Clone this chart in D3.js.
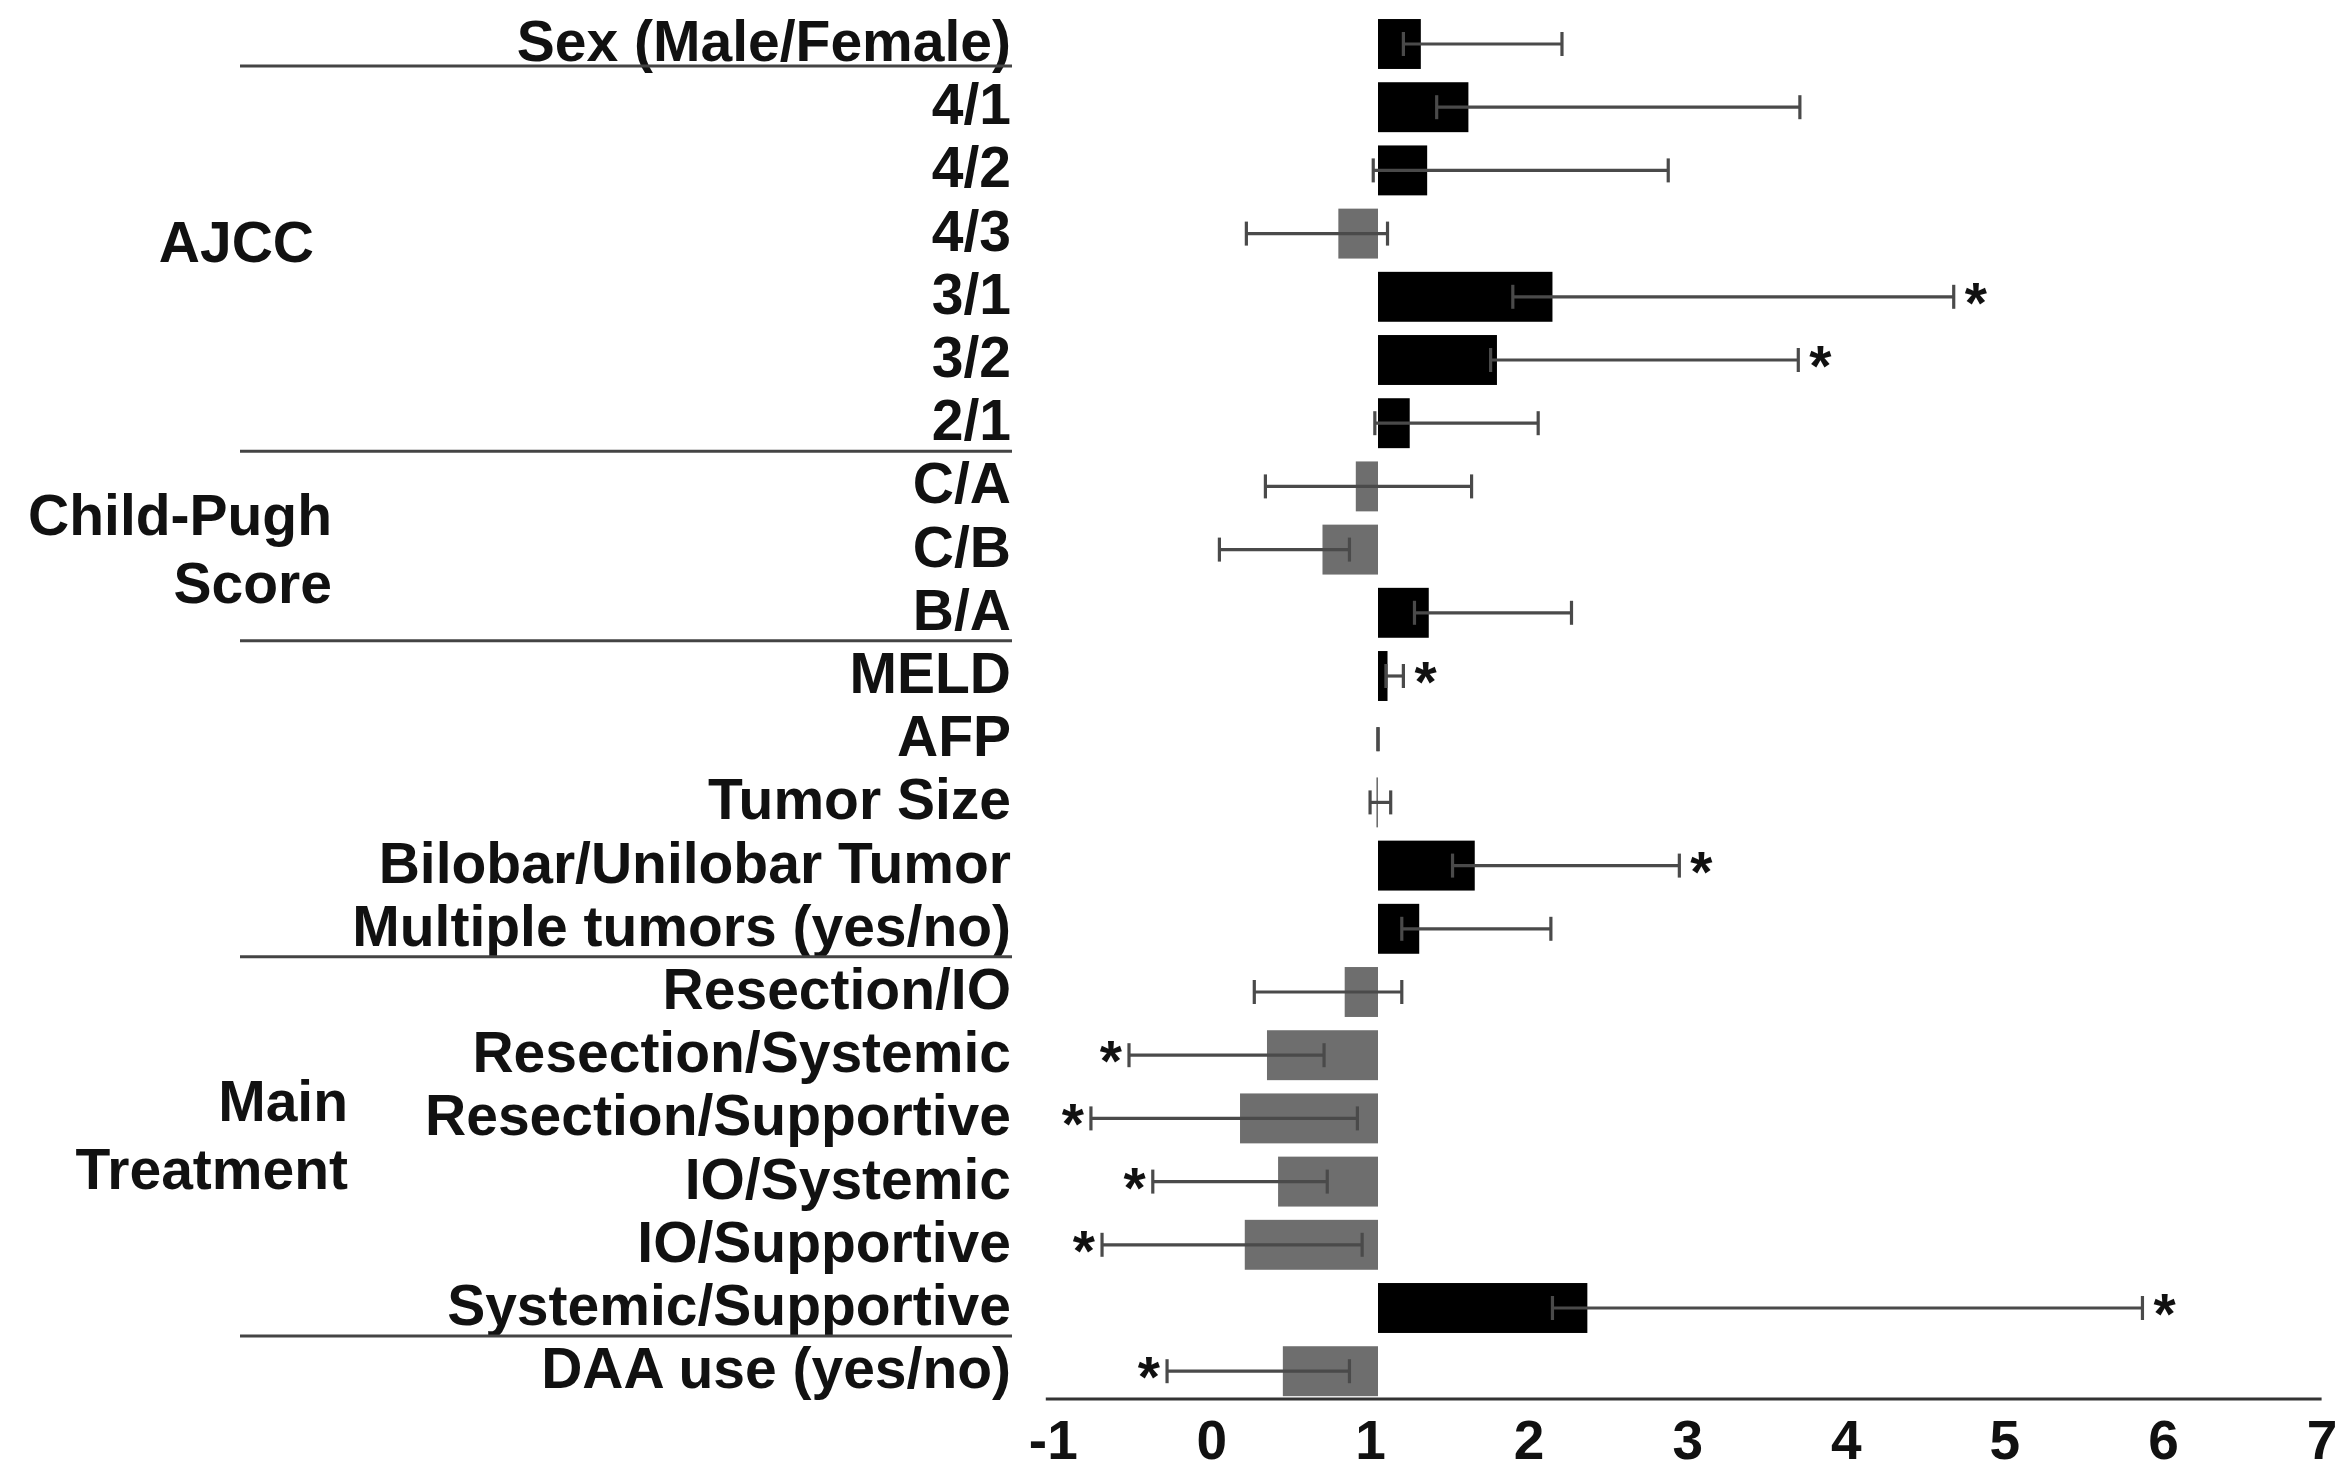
<!DOCTYPE html>
<html>
<head>
<meta charset="utf-8">
<script src="https://cdn.jsdelivr.net/npm/d3@7"></script>
<style>
  html, body { margin: 0; padding: 0; background: #fff; }
  svg { display: block; }
  text { font-family: "Liberation Sans", Arial, sans-serif; font-weight: bold; fill: #111; }
</style>
</head>
<body>
<svg id="chart" width="2341" height="1472"></svg>
<script>
// ---------- DATA ----------
const categories = [
  "Sex (Male/Female)", "4/1", "4/2", "4/3", "3/1", "3/2", "2/1",
  "C/A", "C/B", "B/A",
  "MELD", "AFP", "Tumor Size", "Bilobar/Unilobar Tumor", "Multiple tumors (yes/no)",
  "Resection/IO", "Resection/Systemic", "Resection/Supportive", "IO/Systemic", "IO/Supportive", "Systemic/Supportive",
  "DAA use (yes/no)"
];
const ratios = [1.27, 1.57, 1.31, 0.75, 2.10, 1.75, 1.20, 0.86, 0.65, 1.32, 1.06, 1.00, 0.99, 1.61, 1.26, 0.79, 0.30, 0.13, 0.37, 0.16, 2.32, 0.40];
const lowerCI = [1.16, 1.37, 0.97, 0.17, 1.85, 1.71, 0.98, 0.29, 0.00, 1.23, 1.05, 1.00, 0.95, 1.47, 1.15, 0.22, -0.57, -0.81, -0.42, -0.74, 2.10, -0.33];
const upperCI = [2.16, 3.66, 2.83, 1.06, 4.63, 3.65, 2.01, 1.59, 0.82, 2.22, 1.16, 1.00, 1.08, 2.90, 2.09, 1.15, 0.66, 0.87, 0.68, 0.90, 5.82, 0.82];
const significant = [0, 0, 0, 0, 1, 1, 0, 0, 0, 0, 1, 0, 0, 1, 0, 0, 1, 1, 1, 1, 1, 1];
const xTicks = [-1, 0, 1, 2, 3, 4, 5, 6, 7];
const xTickLabels = ["-1", "0", "1", "2", "3", "4", "5", "6", "7"];
const groupNames = [["AJCC"], ["Child-Pugh", "Score"], ["Main", "Treatment"]];
const groupRows = [[1, 6], [7, 9], [15, 20]];
const separatorsAfter = [0, 6, 9, 14, 20];
const baseline = 1;

// ---------- LAYOUT ----------
const L = {
  x1: 1378, unit: 158.6,
  top: 12.4, bottom: 1402.8,
  axisY: 1399,
  labelRight: 1011,
  sepLeft: 240, sepRight: 1012,
  groupRight: [314, 332, 348],
  groupNudge: [-23, -1, -15],
  groupLine: 68,
  fontSize: 57,
  tickFont: 55
};

const svg = d3.select("#chart");

const x = d3.scaleLinear()
  .domain([-1, 7])
  .range([L.x1 - 2 * L.unit, L.x1 + 6 * L.unit]);

const y = d3.scaleBand()
  .domain(categories)
  .range([L.top, L.bottom])
  .paddingInner(0.21)
  .paddingOuter(0.105);

const rows = categories.map((c, i) => ({
  cat: c, v: ratios[i], lo: lowerCI[i], hi: upperCI[i], sig: significant[i]
}));
const cy = d => y(d.cat) + y.bandwidth() / 2;

// bars
svg.append("g").selectAll("rect")
  .data(rows)
  .join("rect")
  .attr("x", d => x(Math.min(d.v, baseline)))
  .attr("y", d => y(d.cat))
  .attr("width", d => Math.abs(x(d.v) - x(baseline)))
  .attr("height", y.bandwidth())
  .attr("fill", d => d.v >= baseline ? "#000" : "#6e6e6e");

// error bars
const eb = svg.append("g").attr("stroke", "#4a4a4a").attr("stroke-width", 3.2).attr("fill", "none");
const capH = 12;
rows.forEach(d => {
  const yc = cy(d);
  eb.append("line").attr("x1", x(d.lo)).attr("x2", x(d.hi)).attr("y1", yc).attr("y2", yc);
  eb.append("line").attr("x1", x(d.lo)).attr("x2", x(d.lo)).attr("y1", yc - capH).attr("y2", yc + capH);
  eb.append("line").attr("x1", x(d.hi)).attr("x2", x(d.hi)).attr("y1", yc - capH).attr("y2", yc + capH);
});

// significance asterisks
svg.append("g").selectAll("text")
  .data(rows.filter(d => d.sig))
  .join("text")
  .attr("x", d => d.v >= baseline ? x(d.hi) + 11 : x(d.lo) - 7)
  .attr("y", d => cy(d) + 26)
  .attr("text-anchor", d => d.v >= baseline ? "start" : "end")
  .attr("font-size", L.fontSize)
  .text("*");

// row labels
svg.append("g").selectAll("text")
  .data(rows)
  .join("text")
  .attr("x", L.labelRight)
  .attr("y", d => cy(d) + 17)
  .attr("text-anchor", "end")
  .attr("font-size", L.fontSize)
  .text(d => d.cat);

// separators
svg.append("g").selectAll("line")
  .data(separatorsAfter)
  .join("line")
  .attr("x1", L.sepLeft).attr("x2", L.sepRight)
  .attr("y1", (r, i) => cy(rows[r]) + (i === 0 ? 22 : 28))
  .attr("y2", (r, i) => cy(rows[r]) + (i === 0 ? 22 : 28))
  .attr("stroke", "#444").attr("stroke-width", 3);

// group labels
groupNames.forEach((lines, gi) => {
  const [a, b] = groupRows[gi];
  const mid = (cy(rows[a]) + cy(rows[b])) / 2 + L.groupNudge[gi];
  const n = lines.length;
  lines.forEach((t, li) => {
    svg.append("text")
      .attr("x", L.groupRight[gi])
      .attr("y", mid + (li - (n - 1) / 2) * L.groupLine + 20)
      .attr("text-anchor", "end")
      .attr("font-size", L.fontSize)
      .text(t);
  });
});

// x axis
const axis = svg.append("g")
  .attr("transform", `translate(0,${L.axisY})`)
  .call(d3.axisBottom(x).tickValues(xTicks).tickSize(0).tickSizeOuter(0)
    .tickFormat((d, i) => xTickLabels[i]));
axis.select(".domain").remove();
axis.append("line")
  .attr("x1", x.range()[0] - 15).attr("x2", x.range()[1] - 8)
  .attr("y1", 0).attr("y2", 0)
  .attr("stroke", "#333").attr("stroke-width", 3);
axis.selectAll(".tick text")
  .attr("y", 60).attr("dy", 0).attr("dx", -8)
  .attr("font-size", L.tickFont)
  .attr("font-family", "Liberation Sans, Arial, sans-serif")
  .attr("font-weight", "bold")
  .attr("fill", "#111");
</script>
</body>
</html>
